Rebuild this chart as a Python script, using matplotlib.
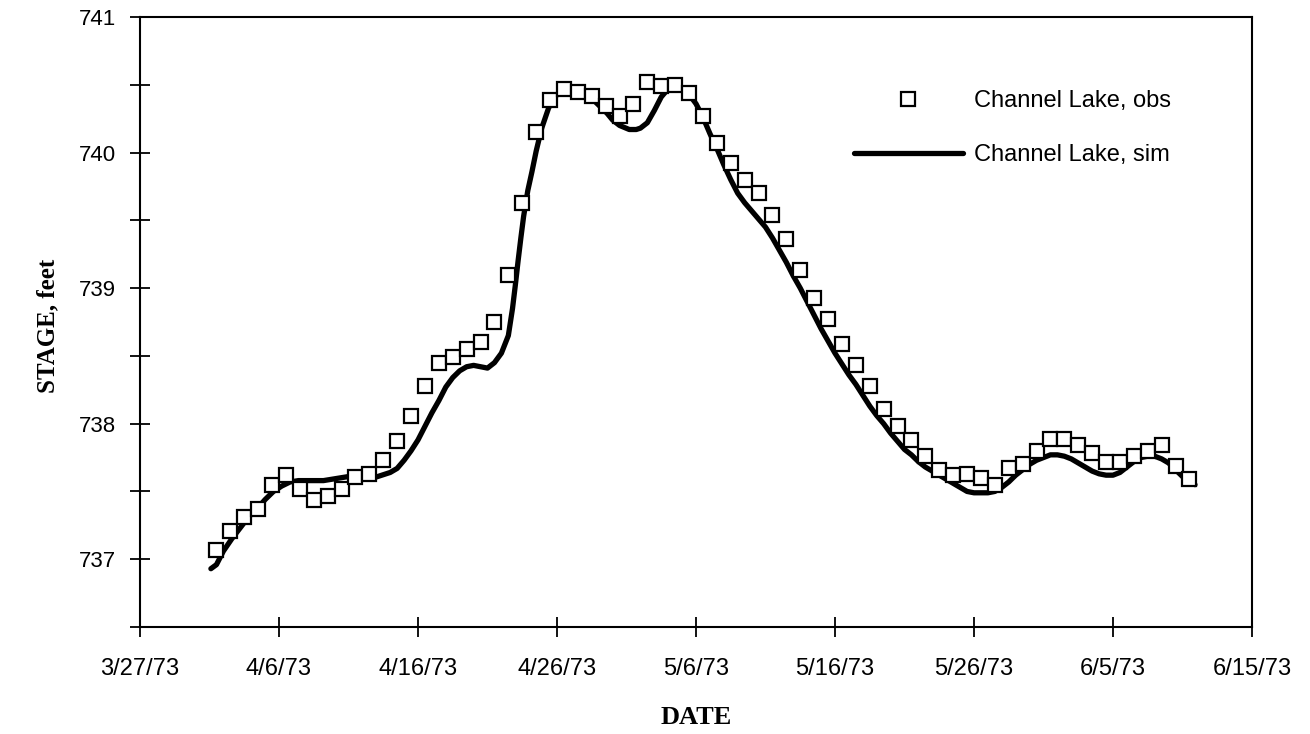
import matplotlib
matplotlib.use("Agg")
import matplotlib.pyplot as plt
import matplotlib.dates as mdates
from matplotlib.ticker import FuncFormatter, MultipleLocator
import pandas as pd
import numpy as np

# ---------------- data ----------------
obs_start = "1973-04-01 12:00"
obs_stage = [737.07, 737.21, 737.31, 737.37, 737.55, 737.62, 737.52, 737.44, 737.47, 737.52,
             737.61, 737.63, 737.73, 737.87, 738.06, 738.28, 738.45, 738.49, 738.55, 738.60,
             738.75, 739.10, 739.63, 740.15, 740.39, 740.47, 740.45, 740.42, 740.34, 740.27,
             740.36, 740.52, 740.49, 740.50, 740.44, 740.27, 740.07, 739.92, 739.80, 739.70,
             739.54, 739.36, 739.13, 738.93, 738.77, 738.59, 738.43, 738.28, 738.11, 737.98,
             737.88, 737.76, 737.66, 737.62, 737.63, 737.60, 737.55, 737.67, 737.70, 737.80,
             737.89, 737.89, 737.84, 737.78, 737.72, 737.72, 737.76, 737.80, 737.84, 737.69,
             737.59]

sim_base = "1973-03-27"
sim_days = [5.1, 5.5, 6.0, 6.6, 7.2, 7.8, 8.4, 9.0, 9.6, 10.2, 10.8, 11.4, 12.0, 12.6, 13.2,
            13.8, 14.4, 15.0, 15.6, 16.2, 16.8, 17.4, 18.0, 18.5, 19.0, 19.5, 20.0, 20.5, 21.0,
            21.5, 22.0, 22.5, 23.0, 23.5, 24.0, 24.5, 25.0, 25.5, 26.0, 26.5, 26.8, 27.0, 27.2,
            27.4, 27.6, 27.9, 28.2, 28.5, 28.9, 29.4, 30.0, 30.7, 31.6, 32.6, 33.1, 33.6, 34.0,
            34.5, 35.2, 35.7, 36.0, 36.5, 37.0, 37.5, 38.0, 38.5, 39.0, 39.5, 40.0, 40.5, 41.0,
            41.5, 42.0, 42.5, 43.0, 43.5, 44.0, 44.5, 45.0, 45.5, 46.0, 46.5, 47.0, 47.5, 48.0,
            48.5, 49.0, 49.5, 50.0, 50.5, 51.0, 51.5, 52.0, 52.5, 53.0, 53.5, 54.0, 54.5, 55.0,
            55.5, 56.0, 56.5, 57.0, 57.5, 58.0, 58.5, 59.0, 59.5, 60.0, 60.5, 61.0, 61.5, 62.0,
            62.5, 63.0, 63.5, 64.0, 64.5, 65.0, 65.5, 66.0, 66.5, 67.0, 67.5, 68.0, 68.5, 69.0,
            69.5, 70.0, 70.5, 71.0, 71.5, 72.0, 72.5, 73.0, 73.5, 74.0, 74.5, 75.0, 75.5, 75.9]
sim_stage = [736.93, 736.96, 737.06, 737.15, 737.23, 737.31, 737.37, 737.44, 737.50, 737.54,
             737.57, 737.58, 737.58, 737.58, 737.58, 737.59, 737.60, 737.61, 737.60, 737.60,
             737.60, 737.62, 737.64, 737.67, 737.73, 737.80, 737.88, 737.98, 738.08, 738.17,
             738.27, 738.34, 738.39, 738.42, 738.43, 738.42, 738.41, 738.45, 738.52, 738.65,
             738.85, 739.02, 739.20, 739.37, 739.53, 739.72, 739.86, 740.01, 740.18, 740.33,
             740.43, 740.45, 740.44, 740.39, 740.34, 740.29, 740.24, 740.20, 740.17, 740.17,
             740.18, 740.22, 740.31, 740.41, 740.47, 740.49, 740.48, 740.43, 740.36, 740.26,
             740.14, 740.03, 739.91, 739.80, 739.70, 739.63, 739.57, 739.51, 739.45, 739.37,
             739.28, 739.19, 739.09, 739.00, 738.90, 738.80, 738.70, 738.61, 738.52, 738.44,
             738.36, 738.29, 738.21, 738.13, 738.06, 738.00, 737.93, 737.87, 737.81, 737.77,
             737.72, 737.68, 737.65, 737.62, 737.59, 737.56, 737.53, 737.50, 737.49, 737.49,
             737.49, 737.50, 737.53, 737.57, 737.62, 737.66, 737.70, 737.73, 737.75, 737.77,
             737.77, 737.76, 737.74, 737.71, 737.68, 737.65, 737.63, 737.62, 737.62, 737.64,
             737.68, 737.72, 737.75, 737.76, 737.76, 737.74, 737.71, 737.66, 737.61, 737.58,
             737.55]

x_start = "1973-03-27"
x_end = "1973-06-15"
tick_step_days = 10
y_min, y_max = 736.5, 741.0

labels = ["Channel Lake, obs", "Channel Lake, sim"]
xlabel = "DATE"
ylabel = "STAGE, feet"

# ---------------- derived ----------------
obs_t = pd.date_range(obs_start, periods=len(obs_stage), freq="D")
sim_t = pd.Timestamp(sim_base) + pd.to_timedelta(sim_days, unit="D")
xticks = pd.date_range(x_start, x_end, freq=f"{tick_step_days}D")

# ---------------- plot ----------------
W, H = 1310, 734
fig = plt.figure(figsize=(W / 100, H / 100), dpi=100)
ax = fig.add_axes([140 / W, 1 - 627 / H, (1252 - 140) / W, (627 - 17) / H])

sans = ["Liberation Sans", "DejaVu Sans"]
serif = ["Liberation Serif", "DejaVu Serif"]

ax.plot(sim_t, sim_stage, color="black", lw=3.8, solid_capstyle="round",
        label=labels[1], zorder=2)
ax.plot(obs_t, obs_stage, linestyle="none", marker="s", markersize=9.5,
        markerfacecolor="white", markeredgecolor="black", markeredgewidth=1.6,
        label=labels[0], zorder=3)

ax.set_xlim(pd.Timestamp(x_start), pd.Timestamp(x_end))
ax.set_ylim(y_min, y_max)

ax.set_xticks(xticks)
ax.xaxis.set_major_formatter(FuncFormatter(
    lambda v, p: (lambda d: f"{d.month}/{d.day}/{d.strftime('%y')}")(mdates.num2date(v))))
ax.yaxis.set_major_locator(MultipleLocator(1))
ax.yaxis.set_minor_locator(MultipleLocator(0.5))
ax.yaxis.set_major_formatter(FuncFormatter(lambda v, p: f"{v:.0f}"))

ax.tick_params(axis="both", which="both", direction="inout", length=14, width=1.3,
               color="black")
ax.tick_params(axis="x", which="major", pad=15)
ax.tick_params(axis="y", which="major", pad=10.5)
for lab in ax.get_xticklabels():
    lab.set_fontfamily(sans)
    lab.set_fontsize(17)
for lab in ax.get_yticklabels():
    lab.set_fontfamily(sans)
    lab.set_fontsize(16)

for s in ax.spines.values():
    s.set_linewidth(1.5)

fig.text(696 / W, 1 - 718 / H, xlabel, family=serif, weight="bold", fontsize=19,
         ha="center", va="center")
fig.text(48 / W, 1 - 326 / H, ylabel, family=serif, weight="bold", fontsize=18,
         ha="center", va="center", rotation=90)

h, l = ax.get_legend_handles_labels()
order = [1, 0]
leg = ax.legend([h[i] for i in order], [l[i] for i in order], loc="upper left",
                bbox_to_anchor=(854 / W, 1 - 90 / H), bbox_transform=fig.transFigure,
                frameon=False, prop={"family": sans, "size": 17},
                handlelength=4.6, handletextpad=0.5, labelspacing=1.35,
                borderpad=0, borderaxespad=0)

fig.savefig("out.png", dpi=100, facecolor="white")
